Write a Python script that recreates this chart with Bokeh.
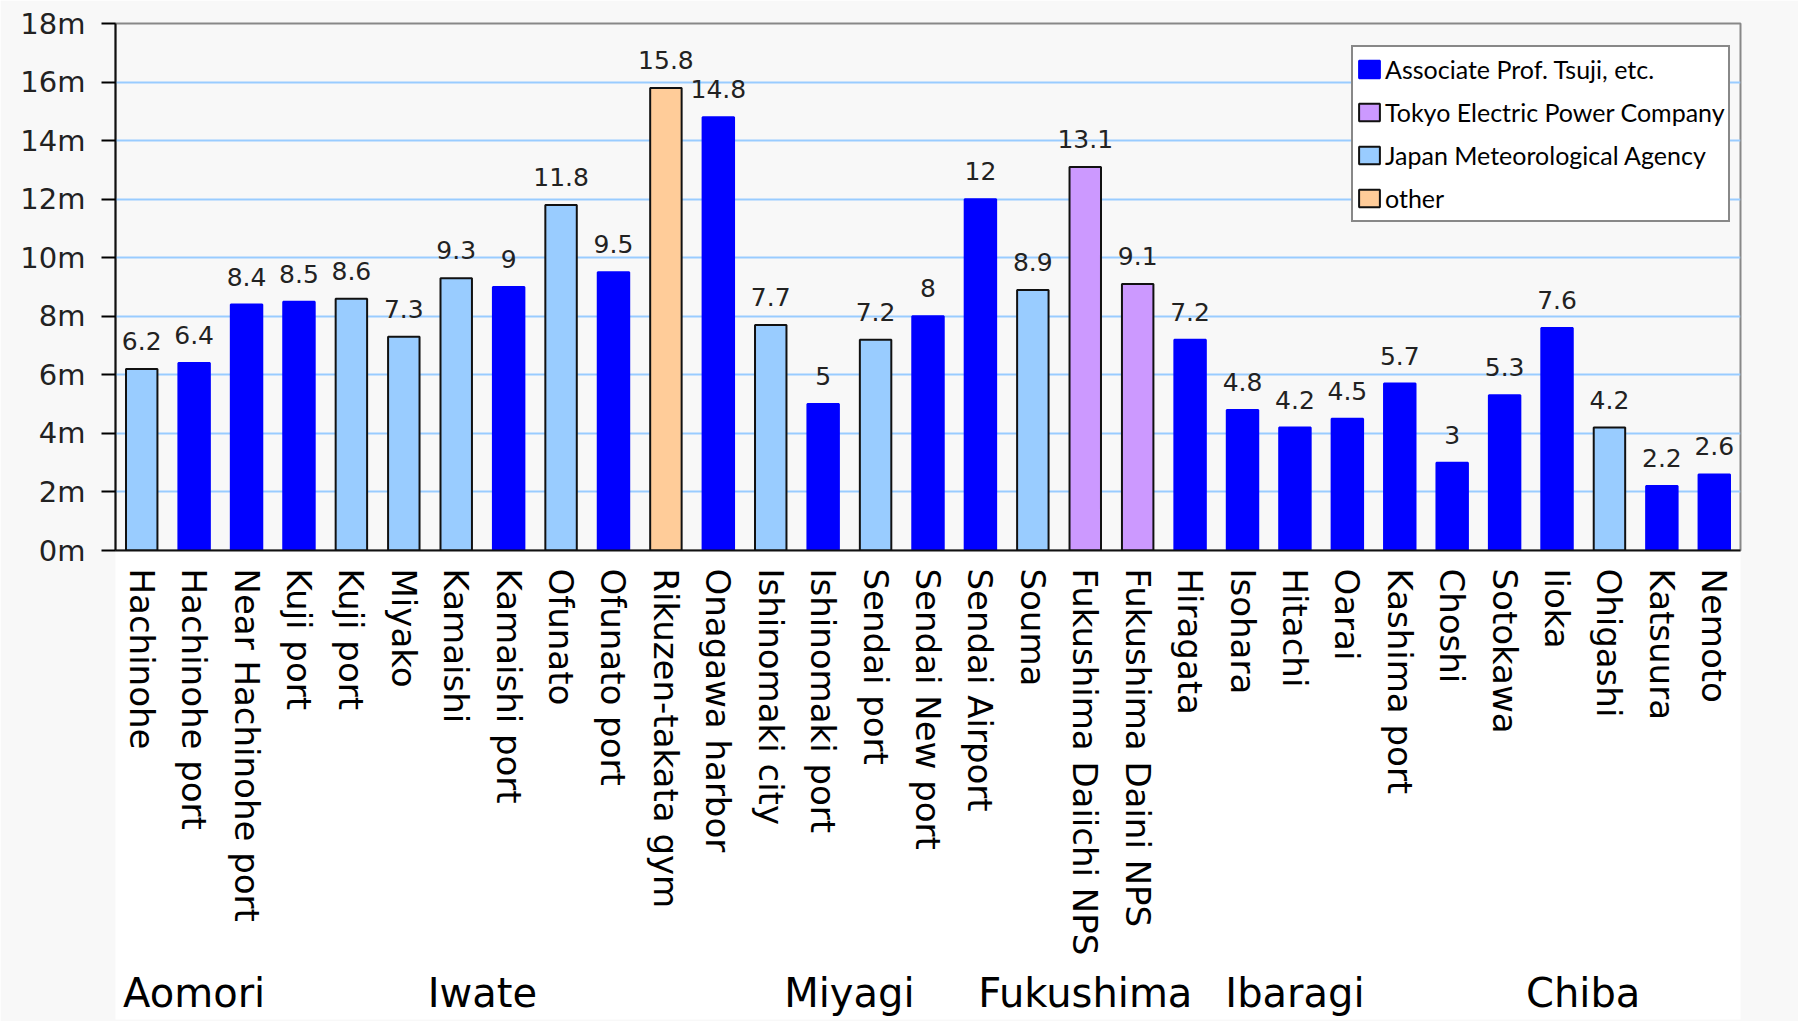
from bokeh.plotting import figure
from bokeh.models import (ColumnDataSource, FactorRange, Range1d, FixedTicker,
                          PrintfTickFormatter, Legend, LegendItem)
from bokeh.embed import file_html
from bokeh.resources import INLINE
from bokeh.core.properties import value

provinces = ["Aomori"] * 3 + ["Iwate"] * 8 + ["Miyagi"] * 6 + ["Fukushima"] * 3 + ["Ibaragi"] * 5 + ["Chiba"] * 6
sites = ["Hachinohe", "Hachinohe port", "Near Hachinohe port", "Kuji port", "Kuji port ",
         "Miyako", "Kamaishi", "Kamaishi port", "Ofunato", "Ofunato port", "Rikuzen-takata gym",
         "Onagawa harbor", "Ishinomaki city", "Ishinomaki port", "Sendai port", "Sendai New port",
         "Sendai Airport", "Souma", "Fukushima Daiichi NPS", "Fukushima Daini NPS", "Hiragata",
         "Isohara", "Hitachi", "Oarai", "Kashima port", "Choshi", "Sotokawa", "Iioka",
         "Ohigashi", "Katsuura", "Nemoto"]
heights = [6.2, 6.4, 8.4, 8.5, 8.6, 7.3, 9.3, 9, 11.8, 9.5, 15.8, 14.8, 7.7, 5, 7.2, 8, 12,
           8.9, 13.1, 9.1, 7.2, 4.8, 4.2, 4.5, 5.7, 3, 5.3, 7.6, 4.2, 2.2, 2.6]
sources = ["jma", "tsuji", "tsuji", "tsuji", "jma", "jma", "jma", "tsuji", "jma", "tsuji",
           "other", "tsuji", "jma", "tsuji", "jma", "tsuji", "tsuji", "jma", "tepco", "tepco",
           "tsuji", "tsuji", "tsuji", "tsuji", "tsuji", "tsuji", "tsuji", "tsuji", "jma",
           "tsuji", "tsuji"]
source_keys = ["tsuji", "tepco", "jma", "other"]
legend_names = ["Associate Prof. Tsuji, etc.", "Tokyo Electric Power Company",
                "Japan Meteorological Agency", "other"]
fill_colors = {"tsuji": "#0000ff", "tepco": "#cc99ff", "jma": "#99ccff", "other": "#ffcc99"}
line_colors = {"tsuji": "#0000ff", "tepco": "#111111", "jma": "#111111", "other": "#111111"}
yticks = list(range(0, 19, 2))

value_labels = [f"{h:g}" for h in heights]
factors = list(zip(provinces, sites))

p = figure(x_range=FactorRange(*factors, factor_padding=0, group_padding=0, subgroup_padding=0),
           y_range=Range1d(0, 18), width=1798, height=1021,
           output_backend="svg", toolbar_location=None,
           min_border_left=115, min_border_right=58, min_border_top=23, min_border_bottom=471)

p.background_fill_color = "#f8f8f8"
p.border_fill_color = "#f8f8f8"
p.outline_line_color = "#888888"
p.outline_line_width = 2

items = []
for key, name in zip(source_keys, legend_names):
    idx = [i for i, s in enumerate(sources) if s == key]
    src = ColumnDataSource(dict(x=[factors[i] for i in idx], top=[heights[i] for i in idx]))
    r = p.vbar(x="x", top="top", width=0.6, source=src, fill_color=fill_colors[key],
               line_color=line_colors[key], line_width=2)
    items.append(LegendItem(label=name, renderers=[r]))

lab_src = ColumnDataSource(dict(x=factors, y=heights, text=value_labels))
p.text(x="x", y="y", text="text", source=lab_src, text_align="center", text_baseline="bottom",
       y_offset=-19, text_font=value("DejaVu Sans"), text_font_size="25px", text_color="#222222")

p.xgrid.visible = False
p.ygrid.ticker = FixedTicker(ticks=yticks)
p.ygrid.grid_line_color = "#99ccff"
p.ygrid.grid_line_width = 2

p.yaxis.ticker = FixedTicker(ticks=yticks)
p.yaxis.formatter = PrintfTickFormatter(format="%dm")
p.yaxis.major_tick_out = 14
p.yaxis.major_tick_in = 0
p.yaxis.major_tick_line_width = 2
p.yaxis.minor_tick_line_color = None
p.yaxis.axis_line_width = 2
p.yaxis.axis_line_color = "#111111"
p.yaxis.major_label_text_font = "DejaVu Sans"
p.yaxis.major_label_text_font_size = "29px"
p.yaxis.major_label_text_color = "#222222"
p.yaxis.major_label_standoff = 16

xa = p.xaxis[0]
xa.axis_line_width = 2
xa.axis_line_color = "#111111"
xa.major_tick_line_color = None
xa.minor_tick_line_color = None
xa.separator_line_alpha = 0
xa.major_label_orientation = "vertical"
xa.major_label_text_font = "DejaVu Sans"
xa.major_label_text_font_size = "34px"
xa.major_label_text_color = "#000000"
xa.major_label_standoff = 12
xa.group_text_font = "DejaVu Sans"
xa.group_text_font_style = "normal"
xa.group_text_font_size = "40px"
xa.group_text_color = "#000000"
xa.group_label_orientation = "horizontal"
xa.background_fill_color = "white"

legend = Legend(items=items, location=(1236, 328), label_text_font="Lato",
                label_text_font_size="25px", label_text_color="#000000",
                glyph_width=26, glyph_height=22, label_standoff=3, padding=3, spacing=5,
                label_height=38, border_line_color="#111111", border_line_width=2,
                background_fill_color="white", background_fill_alpha=1.0, margin=0)
p.add_layout(legend)

open("out.html", "w").write(file_html(p, INLINE))
